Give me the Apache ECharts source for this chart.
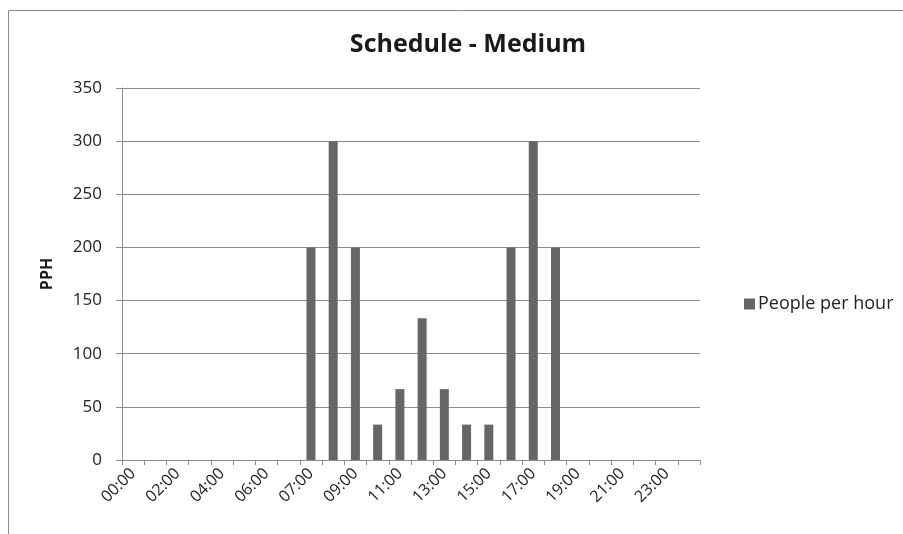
<!DOCTYPE html>
<html>
<head>
<meta charset="utf-8">
<style>
  html, body { margin: 0; padding: 0; background: #fff; }
  #main { width: 903px; height: 534px; }
</style>
<script src="https://cdn.jsdelivr.net/npm/echarts@6/dist/echarts.min.js"></script>
</head>
<body>
<div id="main"></div>
<script>
// categories (one slot between 06:00 and 07:00, one after 23:00)
var hours = ['00:00', '01:00', '02:00', '03:00', '04:00', '05:00', '06:00', '06:30',
  '07:00', '08:00', '09:00', '10:00', '11:00', '12:00', '13:00', '14:00', '15:00',
  '16:00', '17:00', '18:00', '19:00', '20:00', '21:00', '22:00', '23:00', '24:00'];
// people per hour
var pph = [0, 0, 0, 0, 0, 0, 0, 0,
  200, 300, 200, 33.3, 66.7, 133.3, 66.7, 33.3, 33.3,
  200, 300, 200, 0, 0, 0, 0, 0, 0];
var yTicks = [0, 50, 100, 150, 200, 250, 300, 350];

var fontName = '"Open Sans", "Noto Sans", sans-serif';

var chart = echarts.init(document.getElementById('main'));

var option = {
  animation: false,
  backgroundColor: '#fff',
  graphic: [
    {
      type: 'rect',
      shape: { x: 8.5, y: 10.5, width: 900, height: 530 },
      style: { fill: 'none', stroke: '#8c8c8c', lineWidth: 1 },
      silent: true
    }
  ],
  title: {
    text: 'Schedule - Medium',
    left: 463,
    top: 27,
    textAlign: 'center',
    textStyle: {
      fontFamily: fontName,
      fontSize: 25,
      fontWeight: 'bold',
      color: '#1a1a1a'
    }
  },
  legend: {
    data: ['People per hour'],
    left: 739,
    top: 290,
    itemWidth: 11,
    itemHeight: 11,
    itemGap: 5,
    icon: 'rect',
    textStyle: {
      fontFamily: fontName,
      fontSize: 18,
      color: '#222',
      padding: [0, 0, 0, -2]
    }
  },
  grid: {
    left: 122,
    right: 203,
    top: 88,
    bottom: 74,
    containLabel: false
  },
  xAxis: {
    type: 'category',
    data: hours,
    boundaryGap: true,
    axisLine: { lineStyle: { color: '#8c8c8c', width: 1 } },
    axisTick: { show: true, length: 5, interval: 0, lineStyle: { color: '#8c8c8c' } },
    axisLabel: {
      interval: 1,
      rotate: 45,
      margin: 11,
      fontFamily: fontName,
      fontSize: 16,
      color: '#222'
    },
    splitLine: { show: false }
  },
  yAxis: {
    type: 'value',
    min: yTicks[0],
    max: yTicks[yTicks.length - 1],
    interval: 50,
    name: 'PPH',
    nameLocation: 'middle',
    nameGap: 67,
    nameRotate: 90,
    nameTextStyle: {
      fontFamily: fontName,
      fontSize: 16,
      fontWeight: 'bold',
      color: '#1a1a1a'
    },
    axisLine: { show: true, lineStyle: { color: '#8c8c8c', width: 1 } },
    axisTick: { show: true, length: 6, lineStyle: { color: '#8c8c8c' } },
    axisLabel: {
      margin: 20,
      fontFamily: fontName,
      fontSize: 17,
      color: '#222'
    },
    splitLine: { show: true, lineStyle: { color: '#8c8c8c', width: 1 } }
  },
  series: [
    {
      name: 'People per hour',
      type: 'bar',
      data: pph,
      barWidth: 9,
      itemStyle: { color: '#666666' }
    }
  ]
};

chart.setOption(option);
</script>
</body>
</html>
